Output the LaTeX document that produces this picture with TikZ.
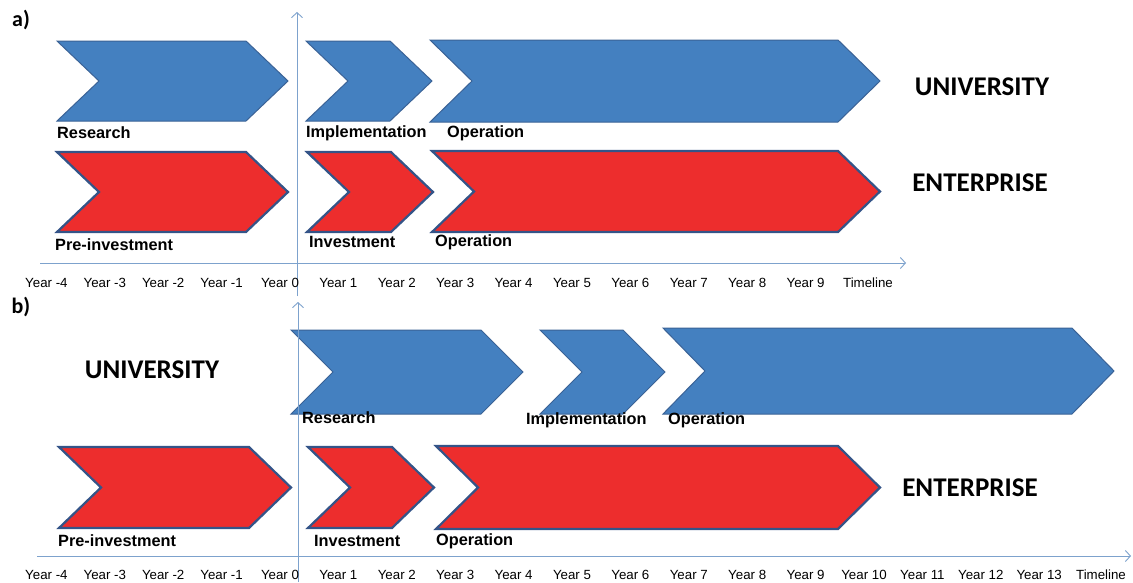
\documentclass[tikz,border=0pt]{standalone}
\usepackage{fontspec}
\setmainfont{Liberation Sans}
\newfontfamily\calibri{Carlito}
\usetikzlibrary{arrows.meta}
\definecolor{chevblue}{RGB}{68,128,192}
\definecolor{chevedge}{RGB}{58,98,150}
\definecolor{chevred}{RGB}{237,45,45}
\definecolor{rededge}{RGB}{52,84,136}
\definecolor{axisblue}{RGB}{125,162,205}

\begin{document}
\begin{tikzpicture}[x=1pt,y=-1pt]
    \tikzstyle{bluechev}=[fill=chevblue,draw=chevedge,line width=1pt]
    \tikzstyle{redchev}=[fill=chevred,draw=rededge,line width=2.2pt]
    \tikzstyle{axis}=[draw=axisblue,line width=0.9pt,-{Straight Barb[length=5pt,width=11pt]}]
    \tikzstyle{phase}=[anchor=west,inner sep=0pt,font=\bfseries\fontsize{16.3}{18}\selectfont]
    \tikzstyle{year}=[inner sep=0pt,font=\fontsize{13.3}{15}\selectfont]
    \tikzstyle{actor}=[inner sep=0pt,font=\calibri\bfseries\fontsize{27}{30}\selectfont]
    \tikzstyle{panel}=[inner sep=0pt,font=\calibri\bfseries\fontsize{22}{24}\selectfont]

    \useasboundingbox[fill=white] (0,0) rectangle (1133,582);

    % chevrons: left/tip/top/bottom/style
    \foreach \l/\r/\t/\b/\s in {57/288/41/121/bluechev, 306/432/41/121/bluechev, 430/880/40/122/bluechev,
                                57/288/152/232/redchev, 307/433/152/232/redchev, 432/880/151/232/redchev,
                                291/523/330/414/bluechev, 540/665/330/414/bluechev, 663/1114/328/414/bluechev,
                                59/291/447/528/redchev, 308/434/447/528/redchev, 436/880/446/529/redchev}
        \draw[\s] (\l,\t) -- (\r-42,\t) -- (\r,{(\t+\b)/2}) -- (\r-42,\b) -- (\l,\b) -- (\l+42,{(\t+\b)/2}) -- cycle;

    % panel a)
    \node[panel] (pa) at (21,20) {a)};
    \coordinate (a-top) at (297,12);
    \coordinate (a-bot) at (297,296);
    \coordinate (a-left) at (40,263);
    \coordinate (a-right) at (906,263);
    \draw[axis] (a-bot) -- (a-top);
    \draw[axis] (a-left) -- (a-right);

    \node[phase] (a-res) at (57,133) {Research};
    \node[phase] (a-imp) at (306,133) {Implementation};
    \node[phase] (a-op1) at (447,133) {Operation};
    \node[phase] (a-pre) at (55,245) {Pre-investment};
    \node[phase] (a-inv) at (309,242) {Investment};
    \node[phase] (a-op2) at (435,242) {Operation};
    \node[actor] (a-uni) at (982,87) {UNIVERSITY};
    \node[actor] (a-ent) at (980,183) {ENTERPRISE};

    \foreach \k [count=\i] in {-4,...,9}
        \node[year] (a-y\i) at (280+58.4*\k,283) {Year \k};
    \node[year] (a-time) at (868,283) {Timeline};

    % panel b)
    \node[panel] (pb) at (21,307) {b)};
    \coordinate (b-top) at (298,302);
    \coordinate (b-bot) at (298,582);
    \coordinate (b-left) at (37,556);
    \coordinate (b-right) at (1131,556);
    \draw[axis] (b-bot) -- (b-top);
    \draw[axis] (b-left) -- (b-right);

    \node[actor] (b-uni) at (152,370) {UNIVERSITY};
    \node[phase] (b-res) at (302,418) {Research};
    \node[phase] (b-imp) at (526,420) {Implementation};
    \node[phase] (b-op1) at (668,420) {Operation};
    \node[phase] (b-pre) at (58,541) {Pre-investment};
    \node[phase] (b-inv) at (314,541) {Investment};
    \node[phase] (b-op2) at (436,541) {Operation};
    \node[actor] (b-ent) at (970,488) {ENTERPRISE};

    \foreach \k [count=\i] in {-4,...,13}
        \node[year] (b-y\i) at (280+58.4*\k,575) {Year \k};
    \node[year] (b-time) at (1101,575) {Timeline};
\end{tikzpicture}
\end{document}
